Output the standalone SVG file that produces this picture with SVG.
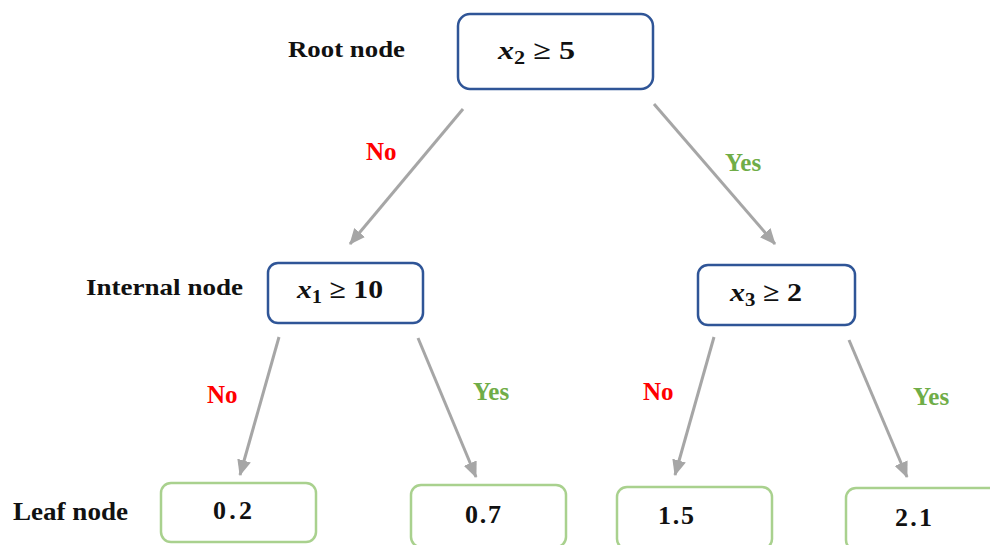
<svg xmlns="http://www.w3.org/2000/svg" width="990" height="545" viewBox="0 0 990 545">
<defs>
<marker id="ah" markerUnits="userSpaceOnUse" markerWidth="16" markerHeight="14" refX="15" refY="7" orient="auto">
<path d="M0,0 L16,7 L0,14 Z" fill="#a6a6a6"/>
</marker>
<style>
.dec{fill:#fff;stroke:#2f5597;stroke-width:2.5}
.leaf{fill:#fff;stroke:#a9d18e;stroke-width:2.5}
.lbl{font-family:"Liberation Serif",serif;font-weight:bold;fill:#111}
.math{font-family:"Liberation Serif",serif;font-weight:bold;font-size:26px;fill:#111}
.val{font-family:"Liberation Serif",serif;font-weight:bold;font-size:26px;fill:#111}
.mi{font-style:italic}
.sub{font-size:18px}
.no{font-family:"Liberation Serif",serif;font-weight:bold;font-size:25px;fill:#ff0000}
.yes{font-family:"Liberation Serif",serif;font-weight:bold;font-size:25px;fill:#70ad47}
.edge{stroke:#a6a6a6;stroke-width:3;fill:none;marker-end:url(#ah)}
</style>
</defs>
<rect width="990" height="545" fill="#fff"/>

<g id="labels">
<text class="lbl" x="288" y="57" font-size="23" textLength="117" lengthAdjust="spacingAndGlyphs">Root node</text>
<text class="lbl" x="86" y="295" font-size="24" textLength="157" lengthAdjust="spacingAndGlyphs">Internal node</text>
<text class="lbl" x="13" y="520" font-size="26" textLength="115" lengthAdjust="spacingAndGlyphs">Leaf node</text>
</g>

<g id="connectors">
<line class="edge" x1="463" y1="109" x2="350" y2="244"/>
<line class="edge" x1="654" y1="104" x2="775" y2="244"/>
<line class="edge" x1="279" y1="337" x2="240" y2="475"/>
<line class="edge" x1="418" y1="338" x2="476" y2="477"/>
<line class="edge" x1="714" y1="337" x2="675" y2="475"/>
<line class="edge" x1="849" y1="340" x2="907" y2="477"/>
<text class="no" x="366" y="160">No</text>
<text class="yes" x="725" y="171">Yes</text>
<text class="no" x="207" y="403">No</text>
<text class="yes" x="473" y="400">Yes</text>
<text class="no" x="643" y="400">No</text>
<text class="yes" x="913" y="405">Yes</text>
</g>

<g id="root">
<rect class="dec" x="458" y="14" width="195" height="75" rx="12"/>
<text class="math" x="498" y="59" textLength="77" lengthAdjust="spacingAndGlyphs"><tspan class="mi">x</tspan><tspan class="sub" dy="5">2</tspan><tspan dy="-5"> ≥ 5</tspan></text>
</g>

<g id="internal-left">
<rect class="dec" x="268" y="263" width="155" height="60" rx="10"/>
<text class="math" x="297" y="298" textLength="86" lengthAdjust="spacingAndGlyphs"><tspan class="mi">x</tspan><tspan class="sub" dy="5">1</tspan><tspan dy="-5"> ≥ 10</tspan></text>
</g>

<g id="internal-right">
<rect class="dec" x="698" y="265" width="157" height="60" rx="10"/>
<text class="math" x="730" y="301" textLength="72" lengthAdjust="spacingAndGlyphs"><tspan class="mi">x</tspan><tspan class="sub" dy="5">3</tspan><tspan dy="-5"> ≥ 2</tspan></text>
</g>

<g id="leaf-1">
<rect class="leaf" x="161" y="483" width="155" height="59" rx="10"/>
<text class="val" x="213" y="519" textLength="39" lengthAdjust="spacing">0.2</text>
</g>
<g id="leaf-2">
<rect class="leaf" x="411" y="485" width="155" height="62" rx="10"/>
<text class="val" x="465" y="523" textLength="36" lengthAdjust="spacing">0.7</text>
</g>
<g id="leaf-3">
<rect class="leaf" x="617" y="487" width="155" height="62" rx="10"/>
<text class="val" x="658" y="524" textLength="36" lengthAdjust="spacing">1.5</text>
</g>
<g id="leaf-4">
<rect class="leaf" x="846" y="488" width="160" height="62" rx="10"/>
<text class="val" x="895" y="526" textLength="37" lengthAdjust="spacing">2.1</text>
</g>
</svg>
